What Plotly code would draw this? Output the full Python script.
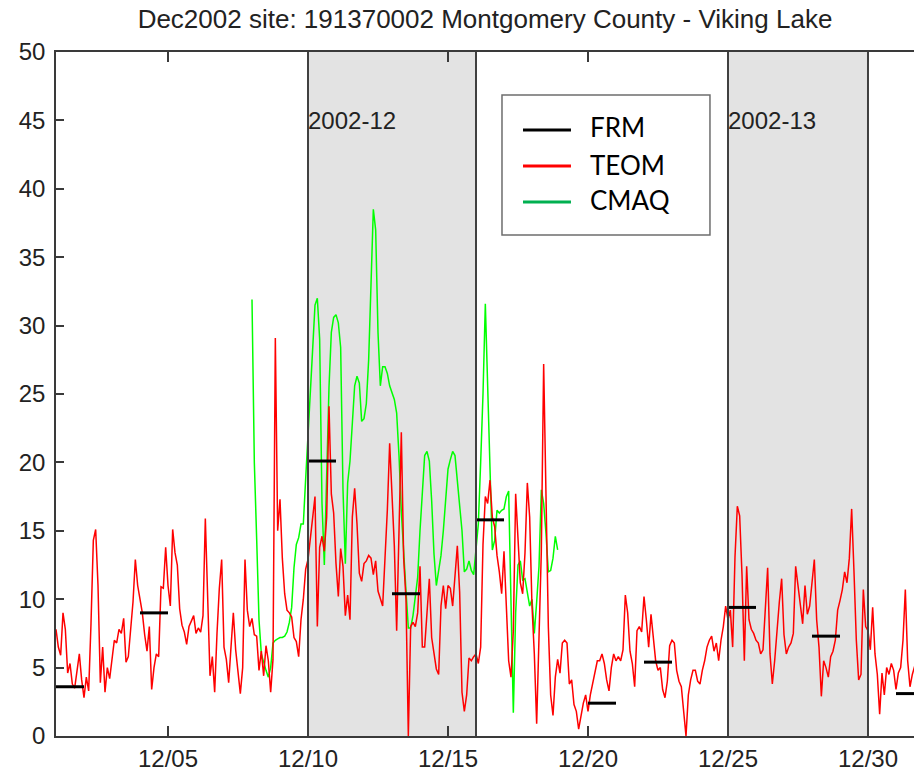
import pandas as pd
import plotly.graph_objects as go

# ---------------- data ----------------
teom_start = "2002-12-01 00:00"   # 2-hourly TEOM readings
teom_vals = [
    7.8, 6.5, 5.9, 9.0, 7.8, 4.6, 5.3, 3.8, 3.5, 4.8,
    6.0, 4.1, 2.8, 4.3, 3.3, 8.2, 14.3, 15.1, 11.0, 3.9,
    6.5, 3.2, 5.0, 4.2, 5.5, 7.0, 6.8, 7.8, 7.5, 8.6,
    5.4, 5.8, 7.8, 9.8, 12.9, 11.0, 10.0, 9.0, 7.4, 6.2,
    8.0, 3.4, 5.0, 6.0, 5.8, 10.9, 10.8, 13.8, 11.0, 9.5,
    15.1, 13.4, 12.5, 9.3, 8.1, 7.6, 6.7, 8.0, 8.4, 8.8,
    7.5, 7.9,
    7.6, 8.8, 15.9, 10.4, 4.4, 5.8, 3.2, 7.5, 10.8, 12.9,
    6.5, 5.6, 3.9, 6.5, 9.0, 6.3, 4.5, 3.1, 5.0, 12.9,
    9.2, 8.0, 8.6, 7.4, 7.3, 4.8, 6.2, 4.4, 6.6, 5.5,
    3.2, 5.6, 29.1, 15.0, 17.3, 13.0, 10.4, 9.2, 9.0, 8.7,
    7.2, 6.9, 5.8, 8.5, 10.0, 12.2, 12.9, 14.5, 16.3, 17.5,
    8.0, 13.8, 14.6, 13.5, 16.0, 24.1, 17.7, 16.3, 12.6, 10.2,
    13.7, 12.4, 8.8, 10.3, 8.5, 16.0, 18.1, 15.5, 11.9, 11.3,
    12.6, 12.8, 13.2, 13.0, 11.8, 12.8, 10.6, 10.1, 9.5, 13.0,
    16.5, 21.4, 17.8, 13.9, 7.7, 15.7, 22.2, 13.0, 10.0, 0.0,
    8.0, 8.3, 8.0, 9.0, 12.4, 6.5, 6.5, 9.0, 11.5, 7.2,
    6.2, 4.9, 4.5, 9.5, 11.0, 9.3, 11.0, 10.8, 9.5, 12.0,
    13.9, 10.5, 3.2, 1.8, 3.0, 5.7, 5.5, 5.8, 6.0,
    5.3, 6.5, 14.0, 17.5, 17.0, 18.7, 16.0, 15.3, 13.2, 12.0,
    10.4, 13.5, 9.5, 5.5, 4.3, 7.7, 17.7, 14.8, 11.2, 10.4,
    13.4, 18.5, 16.0, 9.5, 6.0, 0.9, 6.5, 13.5, 27.2, 18.2,
    8.0, 3.0, 1.5, 4.3, 5.6, 4.6, 6.8, 7.0, 6.8, 3.8,
    4.1, 2.3, 1.8, 0.5, 1.4, 2.4, 3.0, 1.8, 3.0, 3.9,
    4.6, 5.5, 5.5, 6.0, 5.3, 4.1, 3.3,
    5.0, 6.0, 5.5, 5.8, 5.5, 6.3, 10.3, 9.0, 6.2, 5.3,
    3.6, 7.7, 8.0, 7.6, 10.2, 8.5, 6.5, 8.9, 7.2, 5.5,
    4.8, 5.0, 3.4, 2.8, 4.0, 6.6, 7.0, 6.8, 4.8, 4.0,
    3.6, 2.0, 0.0, 3.0, 4.1, 4.8, 4.8, 4.0, 3.8, 4.8,
    5.5, 6.5, 7.0, 7.3, 6.2, 6.8, 5.5, 7.0, 8.0, 9.5,
    8.5, 9.2, 6.5, 13.1, 16.8, 16.1, 11.8, 5.5, 12.4, 8.5,
    7.8, 7.5, 7.0, 6.8, 6.0, 6.3, 9.4, 12.3, 6.0, 3.8,
    5.5, 8.0, 9.8, 11.5, 7.4, 6.0, 6.5, 6.8, 7.5, 12.4,
    11.0, 10.0, 8.2, 11.0, 8.9, 9.5, 11.4, 12.9, 8.5, 6.5,
    2.9, 5.5, 5.0, 4.3, 5.8, 6.2, 7.0, 9.2, 9.9, 10.7,
    12.0, 11.2, 13.0, 16.6, 12.0, 7.0, 4.1, 4.5, 10.7, 8.0,
    7.7, 6.3, 9.4, 6.0, 4.5, 1.6, 4.6, 3.0, 5.0, 4.5,
    5.3, 4.8, 3.4, 4.6, 5.0, 7.0, 10.7, 5.5, 3.6, 4.5,
    5.1,
]

cmaq_start = "2002-12-08 00:00"   # 2-hourly CMAQ values
cmaq_vals = [
    31.9, 20.0, 14.4, 8.5, 6.0, 5.3, 4.8, 4.3, 5.0, 6.8,
    7.0, 7.1, 7.2, 7.2, 7.3, 7.6, 8.3, 9.4, 12.3, 14.0,
    14.5, 15.5, 15.5, 18.8, 22.3, 25.0, 28.3, 31.5, 32.0, 29.0,
    17.0, 12.5, 18.5, 25.5, 29.5, 30.6, 30.8, 30.2, 28.4, 18.0,
    12.6, 18.5, 20.1, 23.2, 25.6, 26.3, 25.8, 23.0, 23.2, 24.3,
    27.5, 33.0, 38.5, 37.0, 29.5, 25.6, 27.0, 27.0, 26.5, 25.6,
    25.0, 24.6, 23.6, 20.5, 16.4, 13.2, 10.6, 7.9, 7.9, 8.8,
    10.2, 11.6, 15.0, 18.1, 20.5, 20.8, 20.1, 17.2, 13.3, 11.0,
    12.0, 13.2, 15.0, 17.0, 19.5, 20.2, 20.8, 20.5, 18.5, 16.5,
    15.0, 12.0, 12.2, 12.8, 12.1, 11.8, 13.5, 15.5, 20.0, 25.0,
    31.6, 25.0, 18.7, 13.6, 14.3, 16.5, 16.3, 16.5, 16.6, 17.5,
    17.9, 9.0, 1.7, 9.0, 12.5, 12.8, 11.4, 11.5, 10.5, 9.5,
    10.0, 7.5, 9.8, 12.4, 18.0, 17.0, 14.8, 12.0, 12.1, 13.0,
    14.6, 13.6,
]

frm_dates = ["2002-12-01", "2002-12-04", "2002-12-10", "2002-12-13", "2002-12-16",
             "2002-12-20", "2002-12-22", "2002-12-25", "2002-12-28", "2002-12-31"]
frm_vals = [3.6, 9.0, 20.1, 10.4, 15.8, 2.4, 5.4, 9.4, 7.3, 3.1]

period_labels = ["2002-12", "2002-13"]
period_start = ["2002-12-10", "2002-12-25"]
period_end = ["2002-12-16", "2002-12-30"]

x_ticks = ["2002-12-05", "2002-12-10", "2002-12-15", "2002-12-20", "2002-12-25", "2002-12-30"]
x_tick_labels = ["12/05", "12/10", "12/15", "12/20", "12/25", "12/30"]
x_range = ["2002-12-01 00:00", "2002-12-31 15:26"]

legend_names = ["FRM", "TEOM", "CMAQ"]
legend_colors = ["#000000", "#ff0000", "#00b050"]

title_text = "Dec2002 site: 191370002 Montgomery County - Viking Lake"

# ---------------- build ----------------
teom_t = pd.date_range(teom_start, periods=len(teom_vals), freq="2h")
cmaq_t = pd.date_range(cmaq_start, periods=len(cmaq_vals), freq="2h")

frm_x, frm_y = [], []
for d, v in zip(frm_dates, frm_vals):
    t0 = pd.Timestamp(d)
    frm_x += [t0, t0 + pd.Timedelta(days=1), None]
    frm_y += [v, v, None]

FONT = "Liberation Sans, Arial, sans-serif"
TXT = "#222222"
AX = "#3a3a3a"

fig = go.Figure()
fig.add_trace(go.Scatter(x=cmaq_t, y=cmaq_vals, mode="lines", name="CMAQ",
                         line=dict(color="#00ff00", width=1.5), showlegend=False))
fig.add_trace(go.Scatter(x=teom_t, y=teom_vals, mode="lines", name="TEOM",
                         line=dict(color="#ff0000", width=1.5), showlegend=False))
fig.add_trace(go.Scatter(x=frm_x, y=frm_y, mode="lines", name="FRM",
                         line=dict(color="#000000", width=3), showlegend=False))

shapes = []
annotations = []
for lab, s, e in zip(period_labels, period_start, period_end):
    shapes.append(dict(type="rect", xref="x", yref="paper", x0=s, x1=e, y0=0, y1=1,
                       fillcolor="#e3e3e3", line=dict(width=0), layer="below"))
    for xv in (s, e):
        shapes.append(dict(type="line", xref="x", yref="paper", x0=xv, x1=xv, y0=0, y1=1,
                           line=dict(color="#404040", width=2), layer="above"))
    annotations.append(dict(x=s, y=45, xref="x", yref="y", text=lab, showarrow=False,
                            xanchor="left", yanchor="middle", xshift=-2,
                            font=dict(family=FONT, size=24, color=TXT)))

# legend box (paper coordinates of the plotting area)
shapes.append(dict(type="rect", xref="paper", yref="paper", x0=0.5198, x1=0.7622,
                   y0=0.7325, y1=0.9371, fillcolor="white",
                   line=dict(color="#6d6d6d", width=1.5), layer="above"))
leg_line_y = [0.886, 0.8333, 0.7807]
leg_text_y = [0.8904, 0.8348, 0.7836]
for name, col, ly, ty in zip(legend_names, legend_colors, leg_line_y, leg_text_y):
    shapes.append(dict(type="line", xref="paper", yref="paper", x0=0.5443, x1=0.6002,
                       y0=ly, y1=ly, line=dict(color=col, width=3), layer="above"))
    annotations.append(dict(x=0.62, y=ty, xref="paper", yref="paper", text=name,
                            showarrow=False, xanchor="left", yanchor="middle",
                            font=dict(family="Lato, Open Sans, sans-serif", size=26,
                                      color="#000000")))

fig.update_layout(
    width=914, height=772,
    margin=dict(l=56, r=0, t=52, b=36, autoexpand=False),
    paper_bgcolor="white", plot_bgcolor="white",
    title=dict(text=title_text, x=0.5, xref="paper", y=1 - 19 / 772, yref="container",
               xanchor="center", yanchor="middle",
               font=dict(family=FONT, size=26, color=TXT)),
    shapes=shapes, annotations=annotations,
    showlegend=False,
)
fig.update_xaxes(type="date", range=x_range, tickvals=x_ticks, ticktext=x_tick_labels,
                 ticks="inside", ticklen=10, tickwidth=1.5, tickcolor=AX,
                 showline=True, linecolor=AX, linewidth=1.5, mirror="ticks",
                 showgrid=False, zeroline=False, automargin=False,
                 tickfont=dict(family=FONT, size=24, color=TXT))
fig.update_yaxes(range=[0, 50], tick0=0, dtick=5,
                 ticks="inside", ticklen=8, tickwidth=1.5, tickcolor=AX,
                 showline=True, linecolor=AX, linewidth=1.5,
                 showgrid=False, zeroline=False, automargin=False,
                 ticklabelstandoff=4,
                 tickfont=dict(family=FONT, size=24, color=TXT))

fig.write_html("out.html", config={"displayModeBar": False},
               post_script="document.body.style.margin='0';document.body.style.overflow='hidden';")
